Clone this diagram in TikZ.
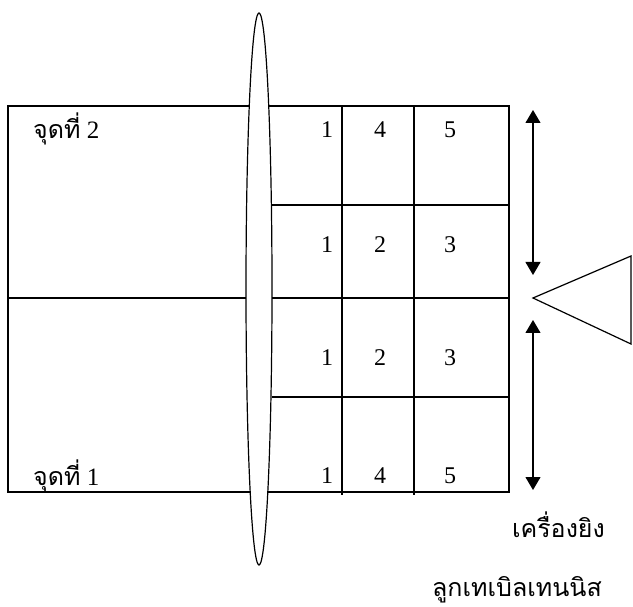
\documentclass[tikz,border=0pt]{standalone}
\usepackage{fontspec}
\setmainfont{Liberation Serif}
\newfontfamily\thaifont[Script=Thai]{Loma}
\usetikzlibrary{arrows.meta}
\begin{document}
\begin{tikzpicture}[x=1pt,y=-1pt,
  line/.style={line width=1.2pt},
  num/.style={font=\fontsize{24}{24}\selectfont, inner sep=0pt, anchor=base},
  lbl/.style={font=\fontsize{25}{25}\selectfont, inner sep=0pt},
  arr/.style={line width=1.1pt, {Triangle[width=15pt,length=13pt]}-{Triangle[width=15pt,length=13pt]}}]
\useasboundingbox (0,0) rectangle (633,607);
% left rectangle
\draw[line] (8,106) rectangle (259,492);
\draw[line] (8,298) -- (259,298);
% right grid
\draw[line] (259,106) rectangle (509,492);
\foreach \y in {205,298,397} \draw[line] (272,\y) -- (509,\y);
\draw[line] (342,106) -- (342,495);
\draw[line] (414,106) -- (414,495);
% net (ellipse)
\draw[line, fill=white] (259,289) ellipse [x radius=13, y radius=276];
% numbers
\foreach \y/\a/\b/\c [count=\i] in {138/1/4/5, 253/1/2/3, 366/1/2/3, 483/1/4/5}{
  \node[num] (n\i a) at (327,\y) {\a};
  \node[num] (n\i b) at (380,\y) {\b};
  \node[num] (n\i c) at (450,\y) {\c};
}
% labels
\node[lbl, anchor=base west] (p2) at (33,139) {{\thaifont จุดที่} 2};
\node[lbl, anchor=base west] (p1) at (33,485) {{\thaifont จุดที่} 1};
% arrows
\coordinate (a1t) at (533,110);
\coordinate (a1b) at (533,275);
\coordinate (a2t) at (533,320);
\coordinate (a2b) at (533,490);
\draw[arr] (a1t) -- (a1b);
\draw[arr] (a2t) -- (a2b);
% launcher triangle
\coordinate (tip) at (533,298);
\coordinate (tr) at (631,256);
\coordinate (br) at (631,344);
\draw[line] (tr) -- (tip) -- (br) -- cycle;
% launcher text
\node[lbl, anchor=base east] (t1) at (605,537) {\thaifont เครื่องยิง};
\node[lbl, anchor=base east] (t2) at (602,596) {\thaifont ลูกเทเบิลเทนนิส};
\end{tikzpicture}
\end{document}
